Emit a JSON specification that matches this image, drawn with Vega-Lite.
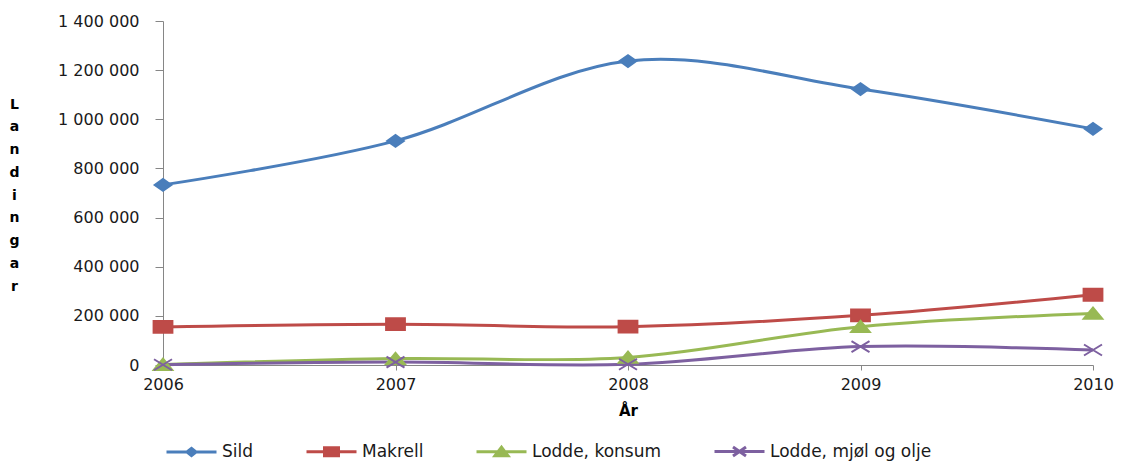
{
  "$schema": "https://vega.github.io/schema/vega-lite/v6.json",
  "width": 930,
  "height": 344,
  "autosize": {"type": "none"},
  "padding": {"left": 163, "top": 21, "right": 31, "bottom": 96},
  "background": "white",
  "config": {
    "view": {"stroke": null},
    "font": "DejaVu Sans"
  },
  "data": {
    "values": [
      {"year": 2006, "series": "Sild", "value": 733000},
      {"year": 2007, "series": "Sild", "value": 912000},
      {"year": 2008, "series": "Sild", "value": 1237000},
      {"year": 2009, "series": "Sild", "value": 1123000},
      {"year": 2010, "series": "Sild", "value": 961000},
      {"year": 2006, "series": "Makrell", "value": 155000},
      {"year": 2007, "series": "Makrell", "value": 166000},
      {"year": 2008, "series": "Makrell", "value": 156000},
      {"year": 2009, "series": "Makrell", "value": 202000},
      {"year": 2010, "series": "Makrell", "value": 286000},
      {"year": 2006, "series": "Lodde, konsum", "value": 2000},
      {"year": 2007, "series": "Lodde, konsum", "value": 26000},
      {"year": 2008, "series": "Lodde, konsum", "value": 31000},
      {"year": 2009, "series": "Lodde, konsum", "value": 156000},
      {"year": 2010, "series": "Lodde, konsum", "value": 210000},
      {"year": 2006, "series": "Lodde, mjøl og olje", "value": 1000},
      {"year": 2007, "series": "Lodde, mjøl og olje", "value": 12000},
      {"year": 2008, "series": "Lodde, mjøl og olje", "value": 3000},
      {"year": 2009, "series": "Lodde, mjøl og olje", "value": 75000},
      {"year": 2010, "series": "Lodde, mjøl og olje", "value": 61000}
    ]
  },
  "encoding": {
    "x": {
      "field": "year",
      "type": "quantitative",
      "scale": {"domain": [2006, 2010], "nice": false, "zero": false},
      "axis": {
        "values": [2006, 2007, 2008, 2009, 2010],
        "format": "d",
        "grid": false,
        "domainColor": "#868686",
        "tickColor": "#868686",
        "tickSize": 5,
        "labelPadding": 6,
        "labelFont": "DejaVu Sans",
        "labelFontSize": 16,
        "labelColor": "#1a1a1a",
        "labelFlush": false,
        "labelOverlap": false,
        "title": "År",
        "titleFont": "DejaVu Sans",
        "titleFontSize": 15,
        "titleFontWeight": "bold",
        "titleColor": "#000000",
        "titleBaseline": "middle",
        "titleY": 45
      }
    },
    "y": {
      "field": "value",
      "type": "quantitative",
      "scale": {"domain": [0, 1400000], "nice": false},
      "axis": {
        "values": [0, 200000, 400000, 600000, 800000, 1000000, 1200000, 1400000],
        "labelExpr": "replace(format(datum.value, ','), regexp(',', 'g'), ' ')",
        "grid": false,
        "domainColor": "#868686",
        "tickColor": "#868686",
        "tickSize": 8,
        "labelPadding": 16,
        "labelFont": "DejaVu Sans",
        "labelFontSize": 16,
        "labelColor": "#1a1a1a",
        "labelOverlap": false,
        "title": ["L", "a", "n", "d", "i", "n", "g", "a", "r"],
        "titleFont": "DejaVu Sans",
        "titleFontSize": 14,
        "titleFontWeight": "bold",
        "titleColor": "#000000",
        "titleAngle": 0,
        "titleAlign": "center",
        "titleBaseline": "top",
        "titleLineHeight": 22.75,
        "titleX": -149,
        "titleY": 76
      }
    }
  },
  "layer": [
    {
      "mark": {"type": "line", "interpolate": "cardinal", "strokeWidth": 3},
      "encoding": {
        "color": {
          "field": "series",
          "type": "nominal",
          "scale": {
            "domain": ["Sild", "Makrell", "Lodde, konsum", "Lodde, mjøl og olje"],
            "range": ["#4A7EBB", "#BE4B48", "#98B954", "#7D60A0"]
          },
          "legend": {
            "title": null,
            "orient": "none",
            "direction": "horizontal",
            "legendX": 2,
            "legendY": 404,
            "columnPadding": 46,
            "symbolSize": 2500,
            "symbolStrokeWidth": 3,
            "labelOffset": 4,
            "labelFont": "DejaVu Sans",
            "labelFontSize": 17,
            "labelColor": "#1a1a1a",
            "labelLimit": 400,
            "encode": {
              "symbols": {
                "update": {
                  "shape": {"signal": "datum.value === 'Sild' ? 'M-1,0H1M-0.18,0L0,-0.14L0.18,0L0,0.14Z' : datum.value === 'Makrell' ? 'M-1,0H1M-0.28,-0.16H0.28V0.16H-0.28Z' : datum.value === 'Lodde, konsum' ? 'M-1,0H1M-0.26,0.16L0,-0.18L0.26,0.16Z' : 'M-1,0H1M-0.26,-0.18L0.26,0.18M-0.26,0.18L0.26,-0.18'"},
                  "fill": {"scale": "color", "field": "value"},
                  "stroke": {"scale": "color", "field": "value"},
                  "strokeWidth": {"value": 3}
                }
              }
            }
          }
        }
      }
    },
    {
      "transform": [{"filter": "datum.series === 'Sild'"}],
      "mark": {"type": "point", "shape": "M-0.85,0L0,-0.6L0.85,0L0,0.6Z", "size": 400, "filled": true, "fill": "#4A7EBB", "stroke": "#4A7EBB", "strokeWidth": 1.8, "opacity": 1}
    },
    {
      "transform": [{"filter": "datum.series === 'Makrell'"}],
      "mark": {"type": "point", "shape": "M-0.95,-0.6H0.95V0.6H-0.95Z", "size": 400, "filled": true, "fill": "#BE4B48", "stroke": "#BE4B48", "strokeWidth": 1.8, "opacity": 1}
    },
    {
      "transform": [{"filter": "datum.series === 'Lodde, konsum'"}],
      "mark": {"type": "point", "shape": "M-0.95,0.55L0,-0.6L0.95,0.55Z", "size": 400, "filled": true, "fill": "#98B954", "stroke": "#98B954", "strokeWidth": 1.8, "opacity": 1}
    },
    {
      "transform": [{"filter": "datum.series === 'Lodde, mjøl og olje'"}],
      "mark": {"type": "point", "shape": "M-0.9,-0.55L0.9,0.55M-0.9,0.55L0.9,-0.55", "size": 400, "filled": false, "fill": "transparent", "stroke": "#7D60A0", "strokeWidth": 2, "opacity": 1}
    }
  ]
}
